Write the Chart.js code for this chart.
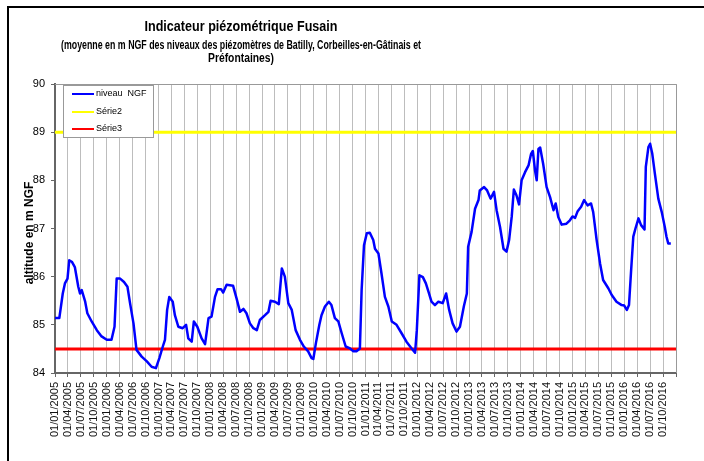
<!DOCTYPE html>
<html>
<head>
<meta charset="utf-8">
<script src="https://cdn.jsdelivr.net/npm/chart.js@4.4.1/dist/chart.umd.min.js"></script>
<style>
  html, body { margin: 0; padding: 0; background: #fff; }
  canvas { display: block; }
</style>
</head>
<body>
<canvas id="grafico" width="704" height="461"></canvas>
<script>
    const titre = 'Indicateur piézométrique Fusain';
    const sousTitre = ['(moyenne en m NGF des niveaux des piézomètres de Batilly, Corbeilles-en-Gâtinais et', 'Préfontaines)'];
    const titreY = 'altitude en m NGF';

    // dates des graduations (un trimestre par graduation)
    const tickLabels = [
      '01/01/2005', '01/04/2005', '01/07/2005', '01/10/2005',
      '01/01/2006', '01/04/2006', '01/07/2006', '01/10/2006',
      '01/01/2007', '01/04/2007', '01/07/2007', '01/10/2007',
      '01/01/2008', '01/04/2008', '01/07/2008', '01/10/2008',
      '01/01/2009', '01/04/2009', '01/07/2009', '01/10/2009',
      '01/01/2010', '01/04/2010', '01/07/2010', '01/10/2010',
      '01/01/2011', '01/04/2011', '01/07/2011', '01/10/2011',
      '01/01/2012', '01/04/2012', '01/07/2012', '01/10/2012',
      '01/01/2013', '01/04/2013', '01/07/2013', '01/10/2013',
      '01/01/2014', '01/04/2014', '01/07/2014', '01/10/2014',
      '01/01/2015', '01/04/2015', '01/07/2015', '01/10/2015',
      '01/01/2016', '01/04/2016', '01/07/2016', '01/10/2016'
    ];

    // mois depuis le 01/01/2005
    const mois = [
      0, 1, 1.8, 2.3, 2.9, 3.3, 3.9, 4.6, 5.4, 5.8, 6.2, 7.0, 7.5, 8.5, 9.7, 10.8,
      12.0, 13.1, 13.8, 14.3, 15.1, 16.0, 16.8, 17.4, 18.2, 18.9, 20.1, 21.3, 22.4, 23.4,
      24.2, 25.0, 25.5, 26.0, 26.5, 27.3, 27.8, 28.6, 29.6, 30.4, 30.9, 31.7, 32.2, 33.0,
      34.0, 34.8, 35.6, 36.3, 37.1, 37.7, 38.5, 39.0, 39.8, 41.3, 42.1, 42.9, 43.7, 44.4,
      45.2, 46.0, 46.8, 47.5, 48.7, 49.5, 50.0, 51.0, 51.9, 52.6, 53.3, 54.1, 54.9, 55.8,
      56.8, 57.7, 58.7, 59.5, 59.9, 60.5, 61.3, 61.8, 62.6, 63.5, 64.1, 64.9, 65.7, 66.5,
      67.4, 68.4, 69.2, 69.9, 70.7, 71.1, 71.65, 72.3, 73.0, 73.8, 74.2, 75.0, 75.7, 76.5,
      77.3, 78.1, 79.2, 80.4, 81.5, 82.7, 83.5, 83.9, 84.5, 85.3, 86.0, 86.6, 87.3, 88.1,
      88.9, 89.9, 90.7, 91.4, 92.2, 93.1, 93.9, 94.8, 95.5, 95.8, 96.6, 97.4, 98.2, 98.5,
      99.5, 100.2, 101.0, 101.8, 102.4, 103.2, 104.0, 104.7, 105.3, 105.9, 106.4, 107.0,
      107.6, 108.2, 109.0, 109.8, 110.4, 110.8, 111.3, 111.7, 112.1, 112.5, 113.2, 114.0,
      114.8, 115.6, 116.1, 116.7, 117.5, 118.6, 119.4, 120.0, 120.6, 121.2, 122.0, 122.7,
      123.5, 124.3, 124.8, 125.6, 126.4, 127.1, 128.3, 129.1, 130.2, 131.4, 132.0, 132.6,
      133.1, 133.6, 134.1, 134.6, 135.3, 135.9, 136.7, 137.0, 137.6, 138.0, 138.5, 139.1,
      139.9, 140.7, 141.4, 141.8, 142.2, 142.8
    ];

    const niveauNGF = [
      85.14, 85.14, 85.65, 85.86, 85.96, 86.34, 86.31, 86.2, 85.79, 85.65, 85.72, 85.48, 85.24, 85.07, 84.89, 84.76,
      84.69, 84.69, 84.96, 85.96, 85.96, 85.89, 85.79, 85.45, 85.03, 84.48, 84.34, 84.24, 84.13, 84.10,
      84.31, 84.55, 84.69, 85.31, 85.58, 85.48, 85.2, 84.96, 84.93, 85.0, 84.72, 84.65, 85.07, 84.96,
      84.72, 84.6, 85.14, 85.17, 85.58, 85.74, 85.74, 85.67, 85.83, 85.81, 85.55, 85.27, 85.33, 85.24,
      85.03, 84.93, 84.89, 85.1, 85.2, 85.27, 85.5, 85.48, 85.43, 86.17, 86.0, 85.45, 85.31, 84.89,
      84.69, 84.55, 84.45, 84.31, 84.29, 84.62, 85.0, 85.2, 85.38, 85.48, 85.41, 85.14, 85.07, 84.82,
      84.55, 84.51, 84.45, 84.45, 84.51, 85.72, 86.65, 86.9, 86.91, 86.76, 86.58, 86.48, 86.07, 85.58,
      85.38, 85.07, 85.0, 84.82, 84.65, 84.51, 84.42, 84.89, 86.03, 85.99, 85.86, 85.69, 85.48, 85.41,
      85.48, 85.45, 85.65, 85.31, 85.03, 84.86, 84.96, 85.38, 85.65, 86.62, 86.93, 87.41, 87.59, 87.79,
      87.86, 87.79, 87.62, 87.76, 87.38, 87.03, 86.58, 86.52, 86.76, 87.24, 87.81, 87.69,
      87.5, 88.0, 88.17, 88.31, 88.55, 88.61, 88.21, 88.0, 88.65, 88.68, 88.34, 87.86,
      87.65, 87.38, 87.52, 87.24, 87.08, 87.1, 87.17, 87.25, 87.22, 87.36, 87.45, 87.59,
      87.48, 87.52, 87.34, 86.76, 86.27, 85.93, 85.76, 85.62, 85.48, 85.41, 85.40, 85.31,
      85.41, 86.14, 86.83, 87.0, 87.21, 87.07, 86.98, 88.28, 88.69, 88.76, 88.55, 88.14,
      87.62, 87.34, 87.03, 86.83, 86.69, 86.69
    ];

    // seuils horizontaux (début et fin de l'axe)
    const moisSeuils = [0, 144];
    const serie2 = [89, 89];
    const serie3 = [84.5, 84.5];

    const police = 'Arial, "Liberation Sans", sans-serif';

    function points(xs, ys) {
      return xs.map((x, i) => ({ x: x, y: ys[i] }));
    }

    // cadre, titres et légende dessinés à la main
    const decor = {
      id: 'decor',
      beforeDraw(c) {
        const ctx = c.ctx;
        ctx.save();
        ctx.fillStyle = '#fff';
        ctx.fillRect(0, 0, c.width, c.height);
        ctx.strokeStyle = '#000';
        ctx.lineWidth = 2;
        ctx.beginPath();
        ctx.moveTo(704, 7);
        ctx.lineTo(8, 7);
        ctx.lineTo(8, 461);
        ctx.stroke();
        ctx.restore();
      },
      afterDraw(c) {
        const ctx = c.ctx;
        const a = c.chartArea;
        ctx.save();
        ctx.strokeStyle = '#999';
        ctx.lineWidth = 1;
        ctx.beginPath();
        ctx.moveTo(a.left, a.top + 0.5);
        ctx.lineTo(a.right + 0.5, a.top + 0.5);
        ctx.lineTo(a.right + 0.5, a.bottom);
        ctx.stroke();

        ctx.fillStyle = '#000';
        ctx.textAlign = 'center';
        ctx.textBaseline = 'alphabetic';
        ctx.font = 'bold 15px ' + police;
        ctx.fillText(titre, 241, 31, 193);
        ctx.font = 'bold 12px ' + police;
        ctx.fillText(sousTitre[0], 241, 49, 360);
        ctx.fillText(sousTitre[1], 241, 62, 66);

        ctx.save();
        ctx.translate(30, 233);
        ctx.rotate(-Math.PI / 2);
        ctx.textBaseline = 'middle';
        ctx.font = 'bold 12px ' + police;
        ctx.fillText(titreY, 0, 0);
        ctx.restore();

        // légende
        ctx.fillStyle = '#fff';
        ctx.fillRect(63, 85, 90, 52);
        ctx.strokeStyle = '#999';
        ctx.strokeRect(63.5, 85.5, 90, 52);
        const ys = [94, 112, 129];
        c.data.datasets.forEach((d, i) => {
          ctx.strokeStyle = d.borderColor;
          ctx.lineWidth = 2;
          ctx.beginPath();
          ctx.moveTo(72, ys[i]);
          ctx.lineTo(94, ys[i]);
          ctx.stroke();
          ctx.fillStyle = '#000';
          ctx.font = '9px ' + police;
          ctx.textAlign = 'left';
          ctx.textBaseline = 'middle';
          ctx.fillText(d.label, 96, ys[i]);
        });
        ctx.restore();
      }
    };

    const ctx = document.getElementById('grafico').getContext('2d');
    const chart = new Chart(ctx, {
      type: 'line',
      data: {
        datasets: [
          { label: 'niveau  NGF', data: points(mois, niveauNGF), borderColor: '#0000ff', borderWidth: 2.5, pointRadius: 0, tension: 0, borderJoinStyle: 'round' },
          { label: 'Série2', data: points(moisSeuils, serie2), borderColor: '#ffff00', borderWidth: 3, pointRadius: 0 },
          { label: 'Série3', data: points(moisSeuils, serie3), borderColor: '#ff0000', borderWidth: 3, pointRadius: 0 }
        ]
      },
      options: {
        responsive: false,
        animation: false,
        layout: { padding: { top: 84, right: 28, left: 0, bottom: 0 } },
        plugins: { legend: { display: false }, title: { display: false }, tooltip: { enabled: false } },
        scales: {
          x: {
            type: 'linear',
            min: 0,
            max: 144,
            afterBuildTicks: (s) => {
              s.ticks = tickLabels.map((_, i) => ({ value: i * 3 })).concat([{ value: 144 }]);
            },
            afterFit: (s) => { s.height = 88; },
            ticks: {
              autoSkip: false,
              minRotation: 90,
              maxRotation: 90,
              padding: 5,
              color: '#111',
              font: { family: police, size: 11 },
              callback: (v, i) => tickLabels[i] || ''
            },
            grid: { color: '#bdbdbd', lineWidth: 1, tickLength: 4, tickColor: '#666' },
            border: { color: '#666', width: 2 }
          },
          y: {
            min: 84,
            max: 90,
            afterFit: (s) => { s.width = 55; },
            ticks: { stepSize: 1, padding: 6, color: '#000', font: { family: police, size: 11 } },
            grid: { drawOnChartArea: false, tickLength: 4, tickColor: '#666' },
            border: { color: '#666', width: 2 }
          }
        }
      },
      plugins: [decor]
    });
</script>
</body>
</html>
